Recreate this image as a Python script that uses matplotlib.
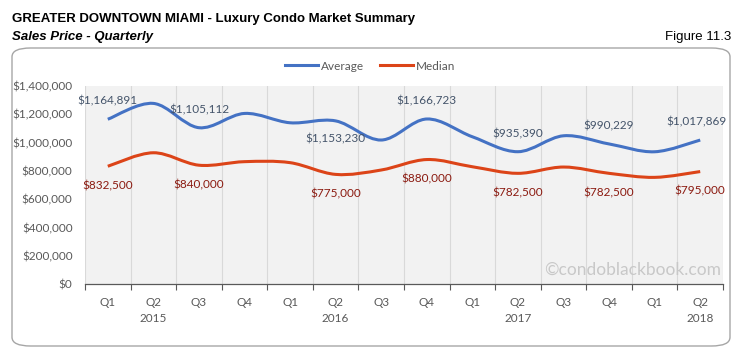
import numpy as np
import matplotlib
matplotlib.use("Agg")
import matplotlib.pyplot as plt
from matplotlib.path import Path
from matplotlib.patches import PathPatch, FancyBboxPatch
from matplotlib.lines import Line2D
from matplotlib.ticker import FuncFormatter

# quarterly sales price data
quarters = ["Q1", "Q2", "Q3", "Q4", "Q1", "Q2", "Q3", "Q4",
            "Q1", "Q2", "Q3", "Q4", "Q1", "Q2"]
years = {1: "2015", 5: "2016", 9: "2017", 13: "2018"}
average = [1164891, 1277000, 1105112, 1206000, 1140000, 1153230, 1018000,
           1166723, 1041000, 935390, 1048000, 990229, 935000, 1017869]
median = [832500, 928000, 840000, 865000, 858000, 775000, 806000,
          880000, 829000, 782500, 827000, 782500, 754000, 795000]
labeled = [0, 2, 5, 7, 9, 11, 13]
avg_below = [5]

blue = "#4472c4"
red = "#dc4418"

plt.rcParams["font.family"] = ["Lato", "DejaVu Sans"]

fig = plt.figure(figsize=(7.39, 3.52), dpi=100)

# rounded frame around the chart
frame = FancyBboxPatch((12 / 739, 6 / 352), 718 / 739, 298 / 352,
                       boxstyle="round,pad=0,rounding_size=0.025",
                       transform=fig.transFigure, facecolor="white",
                       edgecolor="#a6a6a6", lw=1.0, zorder=-5)
fig.patches.append(frame)

title_font = ["Liberation Sans Narrow", "Liberation Sans", "DejaVu Sans"]
fig.text(12 / 739, 1 - 19 / 352, "GREATER DOWNTOWN MIAMI - Luxury Condo Market Summary",
         fontsize=9.5, fontweight="bold", family=title_font, va="center")
fig.text(12 / 739, 1 - 37 / 352, "Sales Price - Quarterly", fontsize=9.5,
         fontweight="bold", style="italic", family=title_font, va="center")
fig.text(731 / 739, 1 - 37 / 352, "Figure 11.3", fontsize=9.5,
         family=title_font, va="center", ha="right")

ax = fig.add_axes([85 / 739, 1 - 284 / 352, 638 / 739, 198 / 352])
ax.set_facecolor("#f2f2f2")
n = len(quarters)
x = np.arange(n)


def smooth_path(xs, ys):
    # cubic bezier segments through the data points (Excel-style smoothed line)
    pts = np.column_stack([xs, ys]).astype(float)
    verts = [pts[0]]
    codes = [Path.MOVETO]
    for i in range(len(pts) - 1):
        p0 = pts[i - 1] if i > 0 else pts[i]
        p1, p2 = pts[i], pts[i + 1]
        p3 = pts[i + 2] if i + 2 < len(pts) else pts[i + 1]
        c1 = p1 + (p2 - p0) / 6.0
        c2 = p2 - (p3 - p1) / 6.0
        verts += [c1, c2, p2]
        codes += [Path.CURVE4] * 3
    return Path(verts, codes)


for vals, col in [(average, blue), (median, red)]:
    ax.add_patch(PathPatch(smooth_path(x, vals), facecolor="none",
                           edgecolor=col, lw=2.2, capstyle="butt", zorder=3))

for i in labeled:
    dy = -13 if i in avg_below else 13
    dx = -3 if i == n - 1 else 0
    ax.annotate("${:,}".format(average[i]), (x[i], average[i]),
                xytext=(dx, dy), textcoords="offset points", ha="center",
                va="center", fontsize=8.5, color="#44546a", zorder=4)
    ax.annotate("${:,}".format(median[i]), (x[i], median[i]),
                xytext=(0, -14), textcoords="offset points", ha="center",
                va="center", fontsize=8.5, color="#8b1a10", zorder=4)

ax.set_xlim(-0.5, n - 0.5)
ax.set_ylim(0, 1400000)
ax.set_yticks(np.arange(0, 1400001, 200000))
ax.yaxis.set_major_formatter(FuncFormatter(lambda v, p: "${:,.0f}".format(v)))

ax.set_xticks(x)
ax.set_xticklabels([q + ("\n" + years[i] if i in years else "")
                    for i, q in enumerate(quarters)], linespacing=1.6)
ax.set_xticks(np.arange(-0.5, n), minor=True)
ax.tick_params(axis="x", which="major", length=0, pad=9, labelsize=8.5,
               labelcolor="#595959")
ax.tick_params(axis="x", which="minor", length=4, color="#595959", width=0.8)
ax.tick_params(axis="y", length=0, pad=9, labelsize=8.5, labelcolor="#595959")
ax.grid(axis="x", which="minor", color="#d9d9d9", lw=0.8)
ax.set_axisbelow(True)
for s in ["top", "right", "left"]:
    ax.spines[s].set_visible(False)
ax.spines["bottom"].set_color("#595959")
ax.spines["bottom"].set_linewidth(0.9)

ax.text(0.997, 0.03, "\u00a9condoblackbook.com", transform=ax.transAxes,
        ha="right", va="bottom", fontsize=12.5, color="#c8c8c8", zorder=2)

handles = [Line2D([], [], color=blue, lw=2.2), Line2D([], [], color=red, lw=2.2)]
fig.legend(handles, ["Average", "Median"], loc="center",
           bbox_to_anchor=(370 / 739, 1 - 66 / 352), ncol=2, frameon=False,
           fontsize=8.5, handlelength=2.8, handletextpad=0.2, columnspacing=1.4,
           labelcolor="#595959")

fig.savefig("out.png", dpi=100)
